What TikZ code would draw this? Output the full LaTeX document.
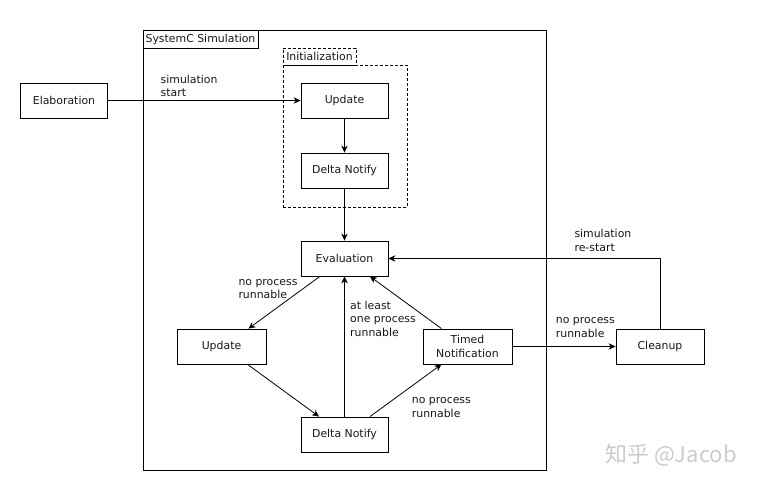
\documentclass[tikz,border=0pt]{standalone}
\usepackage{fontspec}
\setmainfont{DejaVu Sans}
\newfontfamily\cjkfont{Noto Sans CJK SC}
\usetikzlibrary{arrows.meta,calc}
\begin{document}
\begin{tikzpicture}[x=1pt,y=-1pt,
  every node/.style={font=\fontsize{10.9}{13.5}\selectfont, text=black!90},
  box/.style={draw, line width=0.8pt, minimum width=87pt, minimum height=35pt, inner sep=1pt, align=center},
  lbl/.style={align=left, inner sep=0pt, anchor=north west},
  arr/.style={draw, line width=0.8pt, -{Stealth[length=7pt,width=6.5pt]}},
  dashbox/.style={draw, line width=0.8pt, dash pattern=on 3pt off 2pt}]
\useasboundingbox[fill=white] (0,0) rectangle (762,486);

% containers
\node[draw, line width=0.9pt, minimum width=403pt, minimum height=440pt, inner sep=0pt] (sim) at (344.5,250) {};
\node[draw, line width=0.8pt, minimum width=115pt, minimum height=18pt, inner sep=0pt] (simlbl) at (200.5,39) {SystemC Simulation};
\node[dashbox, minimum width=73pt, minimum height=17pt, inner sep=0pt] (initlbl) at (319.5,56.5) {Initialization};
\node[dashbox, minimum width=124pt, minimum height=142pt, inner sep=0pt] (init) at (345,136) {};

% boxes
\node[box] (elab) at (64,100.5) {Elaboration};
\node[box] (upd1) at (344.5,100.5) {Update};
\node[box] (dn1) at (344.5,170.5) {Delta Notify};
\node[box] (eval) at (344.5,258.5) {Evaluation};
\node[box, minimum width=89pt] (upd2) at (221.5,346.5) {Update};
\node[box] (dn2) at (344.5,434.5) {Delta Notify};
\node[box, minimum width=89pt] (timed) at (467.5,346.5) {Timed\\Notification};
\node[box, minimum width=88pt] (clean) at (660,346.5) {Cleanup};

% connectors
\draw[arr] (elab) -- (upd1);
\draw[arr] (upd1) -- (dn1);
\draw[arr] (dn1) -- (eval);
\draw[arr] ($(eval.south west)!0.22!(eval.south east)$) -- ($(upd2.north west)!0.8!(upd2.north east)$);
\draw[arr] ($(upd2.south west)!0.79!(upd2.south east)$) -- ($(dn2.north west)!0.21!(dn2.north east)$);
\draw[arr] (dn2) -- (eval);
\draw[arr] ($(dn2.north west)!0.79!(dn2.north east)$) -- ($(timed.south west)!0.21!(timed.south east)$);
\draw[arr] ($(timed.north west)!0.21!(timed.north east)$) -- ($(eval.south west)!0.79!(eval.south east)$);
\draw[arr] (timed) -- (clean);
\draw[arr] (clean.north) |- (eval.east);

% labels
\node[lbl] (l1) at (160.5,73.5) {\strut simulation\\start};
\node[lbl] (l2) at (238.3,275.5) {\strut no process\\runnable};
\node[lbl] (l3) at (350,299.5) {\strut at least\\one process\\runnable};
\node[lbl] (l4) at (411.7,393.9) {\strut no process\\runnable};
\node[lbl] (l5) at (555.7,313.9) {\strut no process\\runnable};
\node[lbl] (l6) at (574.3,228.3) {\strut simulation\\re-start};

% watermark
\node[font=\cjkfont\fontsize{22}{24}\selectfont, text=black!20, anchor=west, inner sep=0pt] (wm) at (605,455) {知乎 @Jacob};
\end{tikzpicture}
\end{document}
